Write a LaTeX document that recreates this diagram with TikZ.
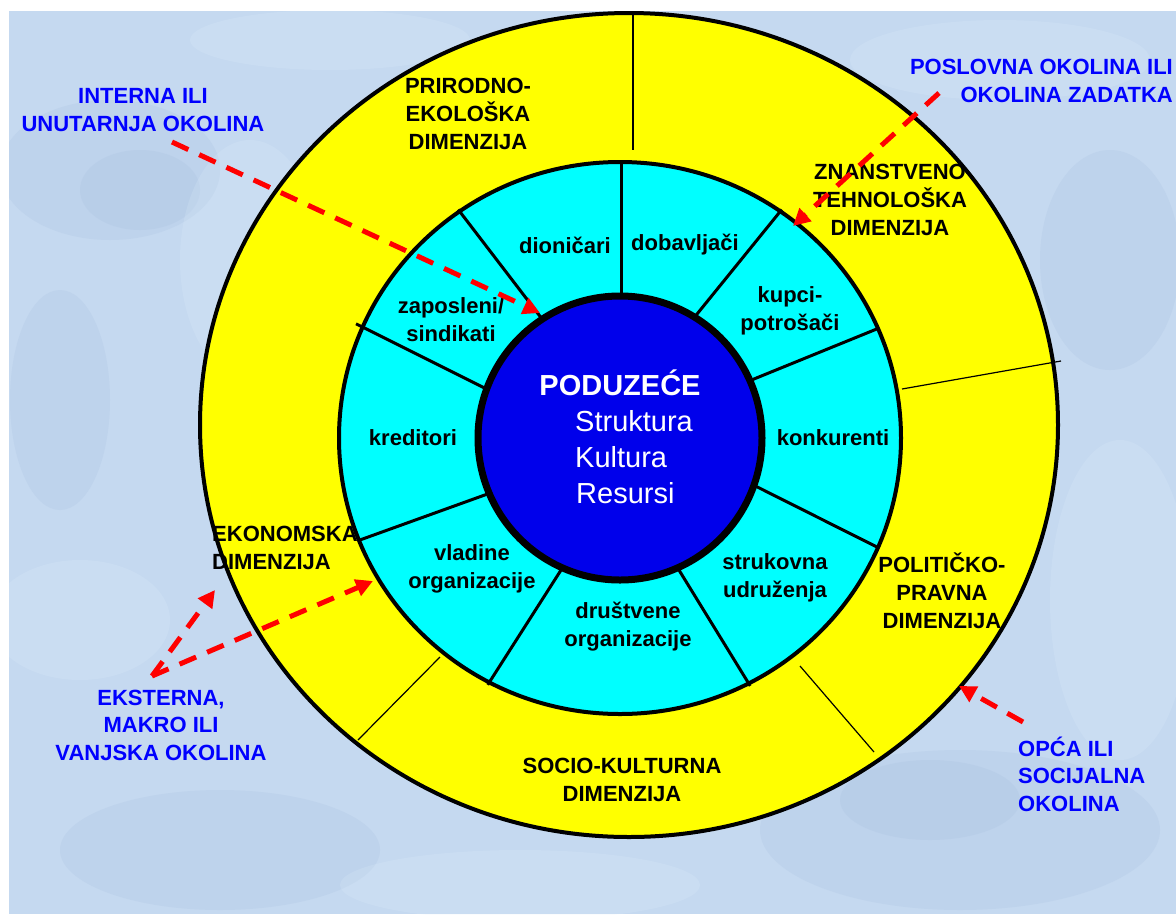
\documentclass[tikz,border=0pt]{standalone}
\usepackage{fontspec}
\setmainfont{Liberation Sans}
\usetikzlibrary{arrows.meta}
\definecolor{bgblue}{RGB}{197,217,240}
\definecolor{bglight}{RGB}{225,240,252}
\definecolor{bgdark}{RGB}{160,185,218}
\definecolor{ringyellow}{RGB}{255,255,0}
\definecolor{ringcyan}{RGB}{0,255,255}
\definecolor{coreblue}{RGB}{0,0,235}
\definecolor{labelblue}{RGB}{0,0,255}
\definecolor{arrowred}{RGB}{255,0,0}
\tikzset{
  dimlabel/.style={font=\bfseries\fontsize{22}{28}\selectfont, align=center, text=black, inner sep=0pt},
  seglabel/.style={font=\bfseries\fontsize{22}{28}\selectfont, align=center, text=black, inner sep=0pt},
  envlabel/.style={font=\bfseries\fontsize{22}{27.5}\selectfont, align=center, text=labelblue, inner sep=0pt},
  corelabel/.style={font=\fontsize{29}{36}\selectfont, text=white, inner sep=0pt},
  redarrow/.style={draw=arrowred, line width=5pt, dash pattern=on 18pt off 12pt, -{Triangle[length=17pt,width=17pt]}},
  ringdivider/.style={line width=1.2pt},
  segdivider/.style={line width=3pt},
  blob/.style={fill=#1, opacity=0.18}
}
\begin{document}
\begin{tikzpicture}[x=1pt,y=-1pt]
\useasboundingbox (0,0) rectangle (1176,914);
\fill[white] (0,0) rectangle (1176,914);
% textured background
\begin{scope}
\clip (9,11) rectangle (1176,914);
\fill[bgblue] (9,11) rectangle (1176,914);
\fill[blob=bgdark] (110,170) ellipse [x radius=110, y radius=70];
\fill[blob=bgdark] (140,190) ellipse [x radius=60, y radius=40];
\fill[blob=bglight] (250,260) ellipse [x radius=70, y radius=120];
\fill[blob=bgdark] (60,400) ellipse [x radius=50, y radius=110];
\fill[blob=bglight] (80,620) ellipse [x radius=90, y radius=60];
\fill[blob=bgdark] (220,850) ellipse [x radius=160, y radius=60];
\fill[blob=bglight] (520,885) ellipse [x radius=180, y radius=35];
\fill[blob=bgdark] (960,830) ellipse [x radius=200, y radius=80];
\fill[blob=bgdark] (930,800) ellipse [x radius=90, y radius=40];
\fill[blob=bglight] (1120,600) ellipse [x radius=70, y radius=160];
\fill[blob=bgdark] (1110,260) ellipse [x radius=70, y radius=110];
\fill[blob=bglight] (1000,60) ellipse [x radius=150, y radius=40];
\fill[blob=bglight] (330,40) ellipse [x radius=140, y radius=30];
\end{scope}
% outer ring
\draw[line width=4pt, fill=ringyellow] (629,425) ellipse [x radius=429, y radius=412];
\draw[ringdivider] (633,12) -- (633,150);
\draw[ringdivider] (902,389) -- (1061,361);
\draw[ringdivider] (800,666) -- (874,752);
\draw[ringdivider] (440,657) -- (358,740);
% middle ring
\draw[line width=4pt, fill=ringcyan] (620,438) ellipse [x radius=281, y radius=276];
\draw[segdivider] (621,300) -- (621,160);
\draw[segdivider] (696.4,314.8) -- (781.8,209.5);
\draw[segdivider] (752.7,379.5) -- (877.7,328.6);
\draw[segdivider] (756.6,486.6) -- (877.7,547.4);
\draw[segdivider] (679.2,570.4) -- (750.2,685.9);
\draw[segdivider] (560.8,570.4) -- (487.7,684.8);
\draw[segdivider] (486.4,494.4) -- (359.3,540.2);
\draw[segdivider] (484,387.7) -- (356,323.8);
\draw[segdivider] (540.4,316.8) -- (458.2,209.5);
% core
\draw[line width=7pt, fill=coreblue] (620,438) circle [radius=142];
\node[corelabel, font=\bfseries\fontsize{29}{36}\selectfont, anchor=base] (core) at (620,395) {PODUZEĆE};
\node[corelabel, anchor=base west] (struktura) at (575,431) {Struktura};
\node[corelabel, anchor=base west] (kultura) at (575,467) {Kultura};
\node[corelabel, anchor=base west] (resursi) at (576,503) {Resursi};
% segment labels
\node[seglabel] (dionicari) at (565,245) {dioničari};
\node[seglabel] (dobavljaci) at (685,245) {dobavljači};
\node[seglabel] (kupci) at (790,311) {kupci-\\potrošači};
\node[seglabel] (konkurenti) at (833,438) {konkurenti};
\node[seglabel] (strukovna) at (775,578) {strukovna\\udruženja};
\node[seglabel] (drustvene) at (628,627) {društvene\\organizacije};
\node[seglabel] (vladine) at (472,569) {vladine\\organizacije};
\node[seglabel] (kreditori) at (413,438) {kreditori};
\node[seglabel] (zaposleni) at (451,320) {zaposleni/\\sindikati};
% dimension labels
\node[dimlabel] (prirodno) at (468,114) {PRIRODNO-\\EKOLOŠKA\\DIMENZIJA};
\node[dimlabel] (znanstveno) at (890,200) {ZNANSTVENO\\TEHNOLOŠKA\\DIMENZIJA};
\node[dimlabel] (politicko) at (942,591) {POLITIČKO-\\PRAVNA\\DIMENZIJA};
\node[dimlabel] (socio) at (622,780) {SOCIO-KULTURNA\\DIMENZIJA};
\node[dimlabel, align=left, anchor=west] (ekonomska) at (212,548) {EKONOMSKA\\DIMENZIJA};
% environment labels
\node[envlabel] (interna) at (143,110) {INTERNA ILI\\UNUTARNJA OKOLINA};
\node[envlabel, align=right, anchor=east] (poslovna) at (1173,81) {POSLOVNA OKOLINA ILI\\OKOLINA ZADATKA};
\node[envlabel] (eksterna) at (161,725) {EKSTERNA,\\MAKRO ILI\\VANJSKA OKOLINA};
\node[envlabel, align=left, anchor=west] (opca) at (1018,774) {OPĆA ILI\\SOCIJALNA\\OKOLINA};
% arrows
\coordinate (internaStart) at (172,142);
\coordinate (internaEnd) at (540,313);
\coordinate (poslovnaStart) at (939,93);
\coordinate (poslovnaEnd) at (793,226);
\coordinate (eksternaApex) at (152,676);
\coordinate (eksternaEndA) at (215,590);
\coordinate (eksternaEndB) at (373,581);
\coordinate (opcaStart) at (1023,722);
\coordinate (opcaEnd) at (959,686);
\draw[redarrow] (internaStart) -- (internaEnd);
\draw[redarrow] (poslovnaStart) -- (poslovnaEnd);
\draw[redarrow] (eksternaApex) -- (eksternaEndA);
\draw[redarrow] (eksternaApex) -- (eksternaEndB);
\draw[redarrow] (opcaStart) -- (opcaEnd);
\end{tikzpicture}
\end{document}
